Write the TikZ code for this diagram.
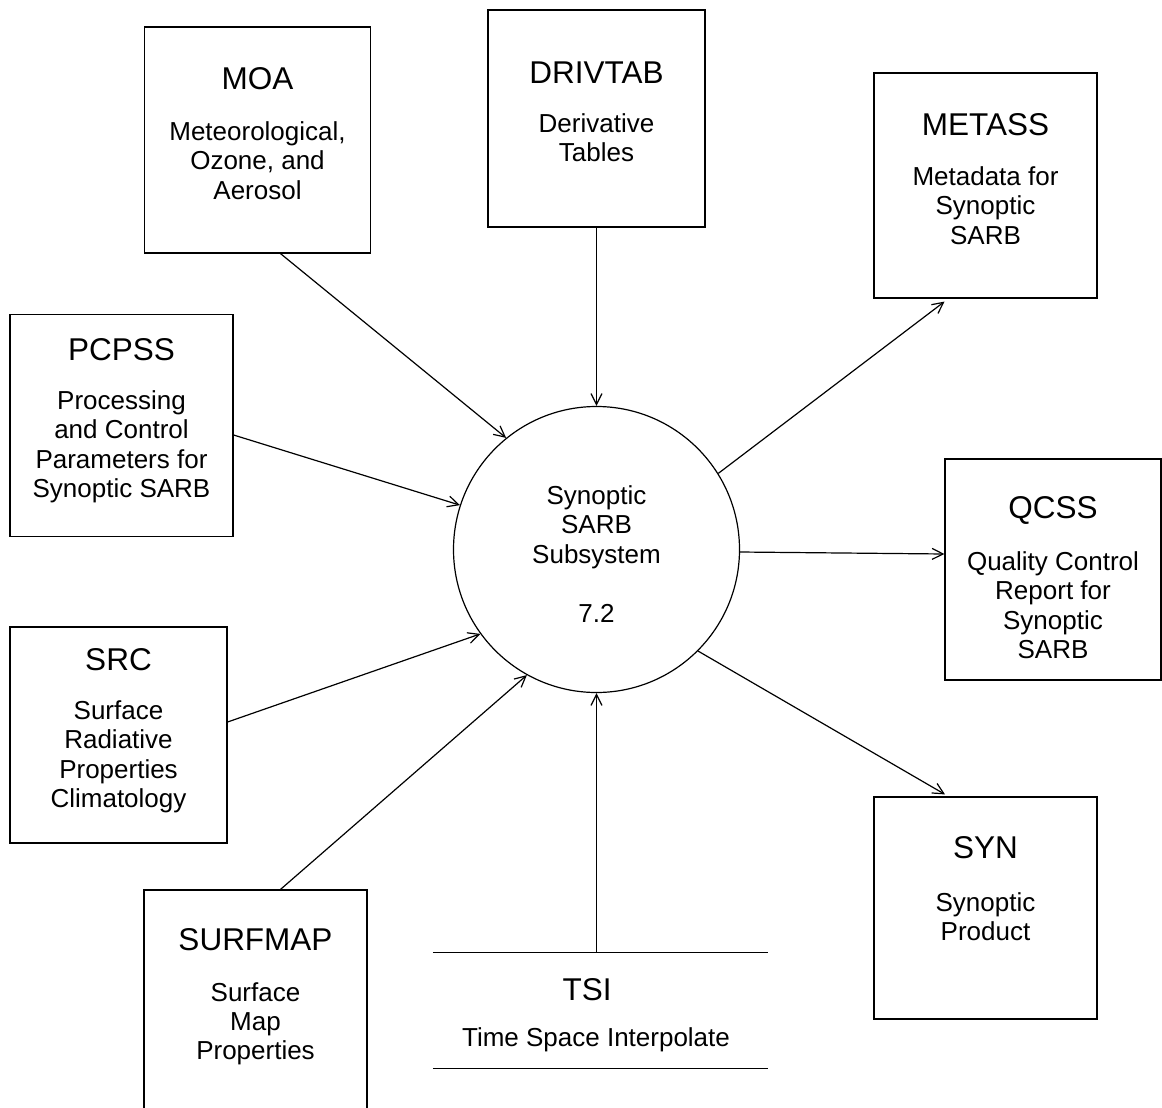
\documentclass[tikz,border=0pt]{standalone}
\usepackage{fontspec}
\setmainfont{Liberation Sans}
\usetikzlibrary{arrows.meta,calc}
\begin{document}
\begin{tikzpicture}[x=1pt,y=-1pt,
  box/.style={draw, line width=1.2pt, inner sep=0pt},
  ttl/.style={font=\fontsize{31.5}{36}\selectfont, inner sep=0pt},
  dsc/.style={font=\fontsize{26}{29.4}\selectfont, align=center, anchor=north, inner sep=0pt},
  flow/.style={-{Straight Barb[length=11pt,width=11pt]}, line width=1.2pt}]
\useasboundingbox (0,0) rectangle (1162,1108);

% boxes
\node[box, minimum width=226pt, minimum height=226pt] (moa) at (257.5,140) {};
\node[box, minimum width=217pt, minimum height=217pt] (drivtab) at (596.5,118.5) {};
\node[box, minimum width=223pt, minimum height=225pt] (metass) at (985.5,185.5) {};
\node[box, minimum width=223pt, minimum height=222pt] (pcpss) at (121.5,425.5) {};
\node[box, minimum width=216pt, minimum height=221pt] (qcss) at (1053,569.5) {};
\node[box, minimum width=217pt, minimum height=216pt] (src) at (118.5,735) {};
\node[box, minimum width=223pt, minimum height=222pt] (surfmap) at (255.5,1001) {};
\node[box, minimum width=223pt, minimum height=222pt] (syn) at (985.5,908) {};
\node[inner sep=0pt, minimum width=335pt, minimum height=115pt] (tsi) at (600.5,1010.5) {};
\draw[line width=1.2pt] (tsi.north west) -- (tsi.north east);
\draw[line width=1.2pt] (tsi.south west) -- (tsi.south east);
\node[draw, circle, line width=1.2pt, minimum size=286pt, inner sep=0pt] (circ) at (596.5,549.5) {};

% titles
\node[ttl] (moat) at (257.5,79) {MOA};
\node[ttl] (drivtabt) at (596.5,73) {DRIVTAB};
\node[ttl] (metasst) at (985.5,125) {METASS};
\node[ttl] (pcpsst) at (121.5,350) {PCPSS};
\node[ttl] (qcsst) at (1053,510) {QCSS};
\node[ttl] (srct) at (118.5,660) {SRC};
\node[ttl] (surfmapt) at (255.5,940) {SURFMAP};
\node[ttl] (synt) at (985.5,848) {SYN};
\node[ttl] (tsit) at (587,990) {TSI};

% descriptions
\node[dsc] (moad) at (257.5,121.5) {Meteorological,\\Ozone, and\\Aerosol};
\node[dsc] (drivtabd) at (596.5,113.5) {Derivative\\Tables};
\node[dsc] (metassd) at (985.5,166.5) {Metadata for\\Synoptic\\SARB};
\node[dsc] (pcpssd) at (121.5,390.5) {Processing\\and Control\\Parameters for\\Synoptic SARB};
\node[dsc] (qcssd) at (1053,551.5) {Quality Control\\Report for\\Synoptic\\SARB};
\node[dsc] (srcd) at (118.5,700.5) {Surface\\Radiative\\Properties\\Climatology};
\node[dsc] (surfmapd) at (255.5,982) {Surface\\Map\\Properties};
\node[dsc] (synd) at (985.5,892) {Synoptic\\Product};
\node[dsc] (tsid) at (596,1027.5) {Time Space Interpolate};
\node[dsc] (circd) at (596.5,485.5) {Synoptic\\SARB\\Subsystem\\[29.4pt]7.2};

% flows
\draw[flow] ($(moa.south)+(23,0)$) -- (circ.129.4);
\draw[flow] (drivtab.south) -- (circ.90);
\draw[flow] ($(pcpss.east)+(0,9.5)$) -- (circ.162.7);
\draw[flow] ($(src.east)+(0,-13)$) -- (circ.216.3);
\draw[flow] ($(surfmap.north)+(25,0)$) -- (circ.241.4);
\draw[flow] (tsi.north -| circ.270) -- (circ.270);
\draw[flow] (circ.32.5) -- ($(metass.south)+(-41,3)$);
\draw[flow] (circ.-1.8) -- ($(qcss.west)+(0,-15.5)$);
\draw[flow] (circ.-45.3) -- ($(syn.north)+(-40.5,-2)$);
\end{tikzpicture}
\end{document}
